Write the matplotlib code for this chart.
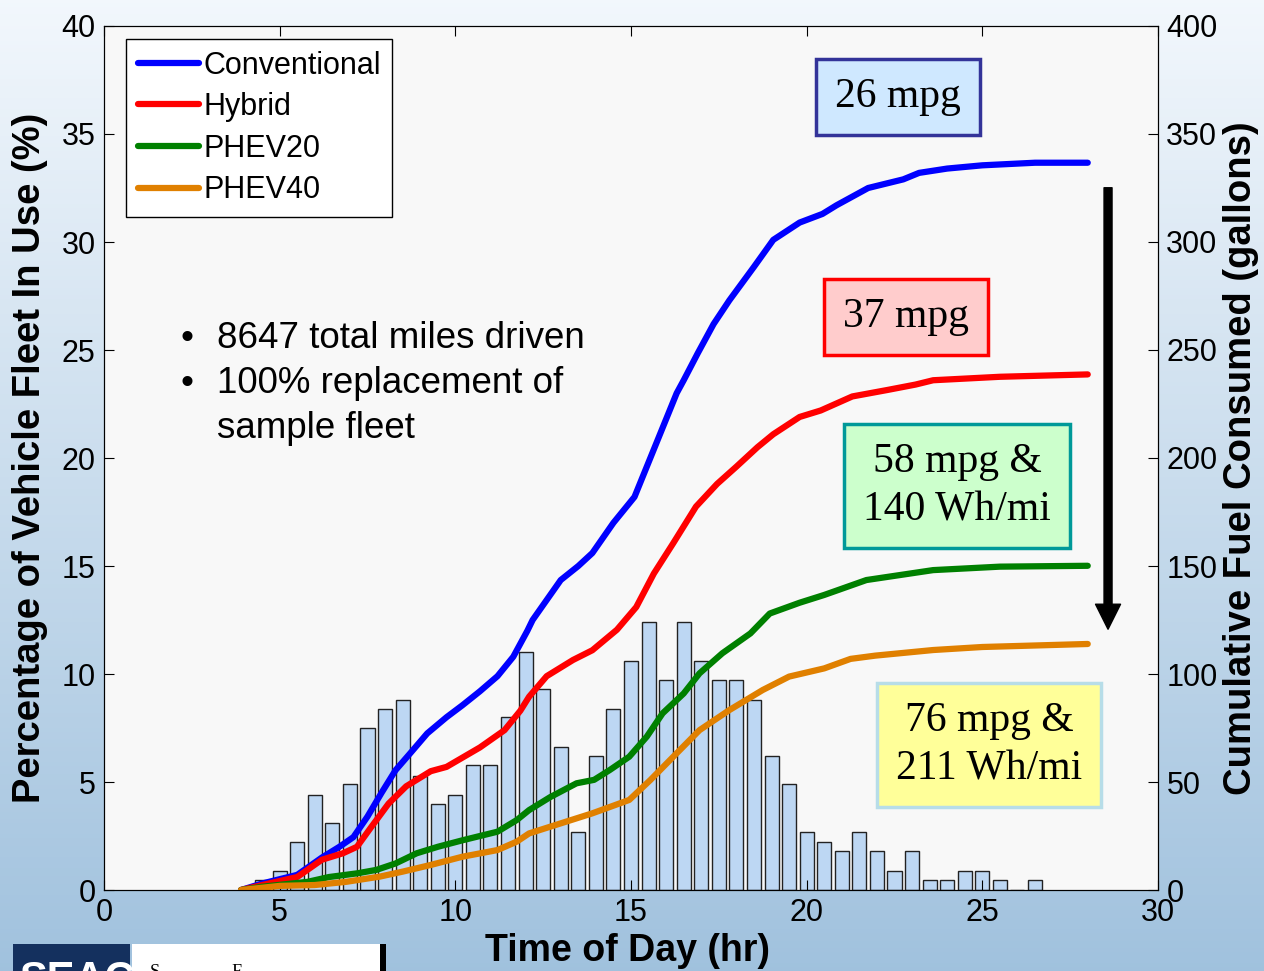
import numpy as np
import matplotlib
matplotlib.use("Agg")
import matplotlib.pyplot as plt
from matplotlib.patches import Rectangle

plt.rcParams['font.family'] = ['Liberation Sans', 'DejaVu Sans']

# histogram of fleet in use (%), half-hour bins
hours = np.arange(4.5, 27.0, 0.5)
fleet_pct = [0.45, 0.9, 2.2, 4.4, 3.1, 4.9, 7.5, 8.4, 8.8, 5.3,
             4.0, 4.4, 5.8, 5.8, 8.0, 11.0, 9.3, 6.6, 2.7, 6.2,
             8.4, 10.6, 12.4, 9.7, 12.4, 10.6, 9.7, 9.7, 8.8, 6.2,
             4.9, 2.7, 2.2, 1.8, 2.7, 1.8, 0.9, 1.8, 0.45, 0.45,
             0.9, 0.9, 0.45, 0.0, 0.45]

# cumulative fuel (gallons)
t_conv = [3.9, 4.5, 5.0, 5.5, 6.2, 6.7, 7.1, 7.5, 7.9, 8.3, 8.7, 9.2, 9.75, 10.2, 10.7, 11.2,
          11.65, 11.85, 12.05, 12.2, 13.0, 13.5, 13.9, 14.5, 15.1, 15.45, 15.75, 16.1, 16.3,
          16.5, 16.9, 17.35, 17.8, 18.5, 19.05, 19.8, 20.45, 20.85, 21.75, 22.75, 23.2, 24.0,
          25.0, 26.5, 28.0]
g_conv = [0, 3, 5, 7, 15, 20, 24.5, 34, 45, 55.5, 63, 72.5, 80, 85.5, 92, 99,
          108, 114, 120, 125, 143.5, 150, 156, 170, 182, 196, 208, 222, 230,
          236, 248.5, 262, 273, 288.5, 301, 309, 313, 317, 325, 329, 332, 334,
          335.5, 336.7, 336.7]

t_hyb = [3.9, 4.5, 5.5, 6.2, 6.8, 7.2, 7.6, 8.1, 8.6, 9.3, 9.75, 10.7, 11.4, 11.85, 12.1,
         12.6, 13.35, 13.9, 14.6, 15.15, 15.65, 16.2, 16.85, 17.45, 18.0, 18.6, 19.05, 19.8,
         20.4, 21.3, 22.3, 23.1, 23.6, 25.5, 28.0]
g_hyb = [0, 2.3, 6, 14, 17, 20, 29, 40, 48, 55, 57, 66, 74, 83, 89.5,
         99, 106.5, 111, 120.5, 131, 146.5, 160.5, 177.5, 188, 196, 205, 211, 219,
         222, 228.5, 231.5, 234, 236, 237.6, 238.7]

t_p20 = [3.9, 4.5, 5.8, 6.4, 7.2, 7.75, 8.3, 8.9, 9.5, 10.2, 11.2, 11.75, 12.1, 12.7, 13.45,
         13.95, 14.4, 14.95, 15.45, 15.9, 16.5, 16.95, 17.6, 18.4, 18.95, 19.8, 20.5, 21.7,
         23.6, 25.5, 28.0]
g_p20 = [0, 1.5, 3.8, 6, 7.7, 9.3, 12.3, 17, 20, 23, 27, 32.4, 37, 43, 49.4,
         51, 55.6, 61.7, 71, 81.8, 91, 100.3, 109.6, 118.8, 128, 133, 136.6, 143.5,
         148.1, 149.7, 150.1]

t_p40 = [3.9, 5.0, 6.0, 6.9, 7.85, 8.5, 9.3, 10.2, 11.2, 11.75, 12.1, 12.7, 13.9, 14.95,
         15.55, 16.3, 16.95, 17.8, 18.75, 19.5, 20.5, 21.25, 21.95, 23.6, 25.0, 28.0]
g_p40 = [0, 1.9, 2.3, 3.8, 6.2, 8.5, 11.6, 15.4, 18.5, 22.4, 26.2, 29.3, 35.5, 41.7,
         50.9, 63.3, 74, 83.3, 92.6, 98.8, 102.6, 107, 108.5, 111.1, 112.5, 113.9]

labels = ["Conventional", "Hybrid", "PHEV20", "PHEV40"]
colors = ["#0000ff", "#ff0000", "#008000", "#e08000"]

fig = plt.figure(figsize=(12.64, 9.71), dpi=100)

# gradient background
bg = fig.add_axes([0, 0, 1, 1], zorder=-10)
top = np.array([0.95, 0.97, 0.99])
bot = np.array([0.63, 0.76, 0.87])
f = np.linspace(0, 1, 256)[:, None]
grad = top[None, :] * (1 - f) + bot[None, :] * f
bg.imshow(grad[:, None, :], aspect='auto', extent=[0, 1, 0, 1])
bg.axis('off')

# logo strip at bottom left (cropped)
fig.patches.append(Rectangle((13/1264, 0), 117/1264, 27/971, transform=fig.transFigure,
                             fc='#14305e', ec='none', zorder=5))
fig.patches.append(Rectangle((132/1264, 0), 250/1264, 27/971, transform=fig.transFigure,
                             fc='white', ec='none', zorder=5))
fig.patches.append(Rectangle((380/1264, 0), 6/1264, 27/971, transform=fig.transFigure,
                             fc='black', ec='none', zorder=5))
fig.text(20/1264, -20/971, "SEAC", color='white', fontsize=30, fontweight='bold', zorder=6)
fig.text(150/1264, -6/971, "S                F", color='black', fontsize=13,
         family='Liberation Serif', zorder=6)

ax = fig.add_axes([104/1264, 81/971, 1054/1264, 864/971])
ax.set_facecolor('#f8f8f8')
ax.bar(hours, fleet_pct, width=0.4, color='#bdd7f3', edgecolor='#222222', linewidth=1.0)
ax.set_xlim(0, 30)
ax.set_ylim(0, 40)
ax.set_xticks(range(0, 31, 5))
ax.set_yticks(range(0, 41, 5))
ax.tick_params(direction='in', length=7, top=True, right=False, labelsize=22, pad=6)
ax.set_xlabel("Time of Day (hr)", fontsize=27, fontweight='bold')
ax.set_ylabel("Percentage of Vehicle Fleet In Use (%)", fontsize=27.5, fontweight='bold')
ax.xaxis.set_label_coords(0.497, -0.050)
ax.yaxis.set_label_coords(-0.053, 0.5)

ax2 = ax.twinx()
for t, g, lab, c in zip([t_conv, t_hyb, t_p20, t_p40], [g_conv, g_hyb, g_p20, g_p40], labels, colors):
    ax2.plot(t, g, color=c, lw=4.5, label=lab, solid_capstyle='round')
ax2.set_ylim(0, 400)
ax2.set_yticks(range(0, 401, 50))
ax2.tick_params(direction='in', length=7, labelsize=22, pad=6)
ax2.set_ylabel("Cumulative Fuel Consumed (gallons)", fontsize=27.5, fontweight='bold')
ax2.yaxis.set_label_coords(1.062, 0.5)

leg = ax2.legend(loc='upper left', bbox_to_anchor=(0.0209, 0.985), borderaxespad=0,
                 fontsize=22, handlelength=2.0, handletextpad=0.15, labelspacing=0.38,
                 borderpad=0.38, fancybox=False, framealpha=1, edgecolor='black')
leg.get_frame().set_linewidth(1.0)

# bullet notes
ax2.text(0.073, 0.612, "•\n•", transform=ax2.transAxes, fontsize=26.5, va='center',
         linespacing=1.36)
ax2.text(0.107, 0.586, "8647 total miles driven\n100% replacement of\nsample fleet",
         transform=ax2.transAxes, fontsize=26.5, va='center', linespacing=1.36)

# mpg boxes
boxes = [("26 mpg", 0.7533, 0.9178, '#cfe8ff', '#333399'),
         ("37 mpg", 0.7609, 0.6632, '#ffcccc', '#ff0000'),
         ("58 mpg &\n140 Wh/mi", 0.8093, 0.4676, '#ccffcc', '#009999'),
         ("76 mpg &\n211 Wh/mi", 0.8397, 0.1678, '#ffff99', '#b7dde8')]
for txt, x, y, fc, ec in boxes:
    ax2.text(x, y, txt, transform=ax2.transAxes, fontsize=30, family='Liberation Serif',
             ha='center', va='center', linespacing=1.35,
             bbox=dict(boxstyle='square,pad=0.45', fc=fc, ec=ec, lw=2.5))

# arrow showing fuel reduction
ax2.annotate("", xy=(0.9526, 0.2986), xytext=(0.9526, 0.816),
             xycoords='axes fraction', textcoords='axes fraction',
             arrowprops=dict(arrowstyle='simple,head_length=1.0,head_width=1.0,tail_width=0.32',
                             fc='black', ec='black', mutation_scale=18))

fig.savefig("out.png", dpi=100)
